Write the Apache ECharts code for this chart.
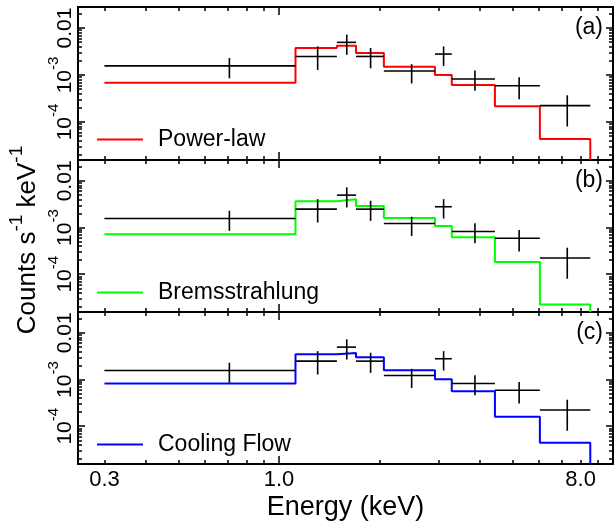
<!DOCTYPE html>
<html><head><meta charset="utf-8">
<script src="https://cdn.jsdelivr.net/npm/echarts@6/dist/echarts.min.js"></script>
<style>html,body{margin:0;padding:0;background:#fff}#c{width:615px;height:523px}</style>
</head><body><div id="c"></div>
<script>
// ---- data ----
const binEdges = [0.3, 1.12, 1.49, 1.70, 2.06, 2.93, 3.29, 4.43, 6.04, 8.55];
const dataRate = [1.56e-3, 2.48e-3, 4.95e-3, 2.48e-3, 1.22e-3, 2.79e-3, 8.2e-4, 5.9e-4, 2.23e-4];
const dataLow  = [8.5e-4, 1.28e-3, 2.69e-3, 1.39e-3, 6.6e-4, 1.56e-3, 4.6e-4, 3.05e-4, 8.0e-5];
const dataHigh = [2.29e-3, 4.06e-3, 7.25e-3, 3.75e-3, 1.70e-3, 4.06e-3, 1.24e-3, 8.9e-4, 3.7e-4];
const modelPowerLaw = [6.8e-4, 3.75e-3, 4.2e-3, 2.93e-3, 1.5e-3, 1.0e-3, 6.1e-4, 2.15e-4, 4.35e-5];
const modelBrems    = [7.2e-4, 3.66e-3, 4.03e-3, 2.9e-3, 1.6e-3, 1.08e-3, 6.2e-4, 1.83e-4, 2.24e-5];
const modelCooling  = [8.2e-4, 3.48e-3, 3.7e-3, 3.0e-3, 1.58e-3, 1.01e-3, 5.6e-4, 1.59e-4, 4.4e-5];
const panelNames = ['Power-law', 'Bremsstrahlung', 'Cooling Flow'];
const panelTags = ['(a)', '(b)', '(c)'];
const xTickLabels = [0.3, 1.0, 8.0];
const yTickLabels = [0.01, 0.001, 0.0001];
const xMajorTicks = [1];
const xMinorTicks = [0.3, 0.4, 0.5, 0.6, 0.7, 0.8, 0.9, 2, 3, 4, 5, 6, 7, 8, 9];
const yMajorTicks = [0.0001, 0.001, 0.01];
const yMinorTicks = [2e-5,3e-5,4e-5,5e-5,6e-5,7e-5,8e-5,9e-5,2e-4,3e-4,4e-4,5e-4,6e-4,7e-4,8e-4,9e-4,2e-3,3e-3,4e-3,5e-3,6e-3,7e-3,8e-3,9e-3,0.02];

// ---- layout / style ----
const FONT = '"Liberation Sans", Arial, Helvetica, sans-serif';
const X_MIN = 0.25, X_MAX = 10, Y_MIN = 1.55e-5, Y_MAX = 0.028;
const models = [modelPowerLaw, modelBrems, modelCooling];
const colors = ['#ff0000', '#00ff00', '#0000ff'];
const gridDefs = [{top: 7, height: 153}, {top: 160, height: 152}, {top: 312, height: 152}];

const chart = echarts.init(document.getElementById('c'), null, {renderer: 'canvas'});
const grids = [], xAxes = [], yAxes = [], series = [], legends = [], graphics = [];
const axisLine = {show: true, onZero: false, lineStyle: {color: '#000', width: 2}};
const tickStyle = {color: '#000', width: 1.5};

function stepData(vals) {
  const d = binEdges.map((e, i) => [e, vals[Math.min(i, vals.length - 1)]]);
  d.push([binEdges[binEdges.length - 1], Y_MIN]);
  return d;
}
const errData = dataRate.map((v, i) => [binEdges[i], binEdges[i + 1], (binEdges[i] + binEdges[i + 1]) / 2, v, dataLow[i], dataHigh[i]]);

function renderErr(params, api) {
  const a = api.coord([api.value(0), api.value(3)]);
  const b = api.coord([api.value(1), api.value(3)]);
  const c = api.coord([api.value(2), api.value(4)]);
  const d = api.coord([api.value(2), api.value(5)]);
  const st = {stroke: '#000', lineWidth: 1.6};
  return {type: 'group', children: [
    {type: 'line', shape: {x1: a[0], y1: a[1], x2: b[0], y2: b[1]}, style: st},
    {type: 'line', shape: {x1: c[0], y1: c[1], x2: d[0], y2: d[1]}, style: st}
  ]};
}

gridDefs.forEach((gd, g) => {
  grids.push({left: 78, right: 2, top: gd.top, height: gd.height, containLabel: false});
  const last = g === 2;
  const bx = {type: 'log', logBase: 10, min: X_MIN, max: X_MAX, gridIndex: g, splitLine: {show: false}, axisLabel: {show: false}};
  xAxes.push(Object.assign({}, bx, {
    position: 'bottom', axisLine: axisLine,
    axisTick: {show: true, inside: true, length: 8, customValues: xMajorTicks, lineStyle: tickStyle},
    axisLabel: last ? {show: true, customValues: xTickLabels, formatter: v => Number(v).toFixed(1), margin: 5,
      fontSize: 22, fontFamily: FONT, color: '#000'} : {show: false},
    name: last ? 'Energy (keV)' : '', nameLocation: 'middle', nameGap: 30,
    nameTextStyle: {fontSize: 27, fontFamily: FONT, color: '#000'}
  }));
  xAxes.push(Object.assign({}, bx, {position: 'bottom', axisLine: {show: false},
    axisTick: {show: true, inside: true, length: 4, customValues: xMinorTicks, lineStyle: tickStyle}}));
  xAxes.push(Object.assign({}, bx, {position: 'top', axisLine: axisLine,
    axisTick: {show: true, inside: true, length: 8, customValues: xMajorTicks, lineStyle: tickStyle}}));
  xAxes.push(Object.assign({}, bx, {position: 'top', axisLine: {show: false},
    axisTick: {show: true, inside: true, length: 4, customValues: xMinorTicks, lineStyle: tickStyle}}));

  const by = {type: 'log', logBase: 10, min: Y_MIN, max: Y_MAX, gridIndex: g, splitLine: {show: false}, axisLabel: {show: false}};
  yAxes.push(Object.assign({}, by, {
    position: 'left', axisLine: axisLine,
    axisTick: {show: true, inside: true, length: 7, customValues: yMajorTicks, lineStyle: tickStyle},
    axisLabel: {show: true, customValues: yTickLabels, rotate: 90, margin: 2,
      formatter: v => v >= 0.005 ? '{n|0.01}' : '{n|10}{s|' + Math.round(Math.log10(v)) + '}',
      rich: {n: {fontSize: 21, fontFamily: FONT, color: '#000', verticalAlign: 'bottom', padding: [9, 0, 0, 0]},
             s: {fontSize: 15, fontFamily: FONT, color: '#000', verticalAlign: 'top'}}}
  }));
  yAxes.push(Object.assign({}, by, {position: 'left', axisLine: {show: false},
    axisTick: {show: true, inside: true, length: 4, customValues: yMinorTicks, lineStyle: tickStyle}}));
  yAxes.push(Object.assign({}, by, {position: 'right', axisLine: axisLine,
    axisTick: {show: true, inside: true, length: 7, customValues: yMajorTicks, lineStyle: tickStyle}}));
  yAxes.push(Object.assign({}, by, {position: 'right', axisLine: {show: false},
    axisTick: {show: true, inside: true, length: 4, customValues: yMinorTicks, lineStyle: tickStyle}}));

  series.push({type: 'line', name: panelNames[g], xAxisIndex: 4 * g, yAxisIndex: 4 * g, step: 'end',
    symbol: 'none', data: stepData(models[g]), color: colors[g],
    lineStyle: {color: colors[g], width: 2}, z: 2, silent: true, animation: false});
  series.push({type: 'custom', xAxisIndex: 4 * g, yAxisIndex: 4 * g, renderItem: renderErr,
    data: errData, encode: {x: [0, 1, 2], y: [3, 4, 5]}, z: 3, silent: true, animation: false});

  legends.push({data: [panelNames[g]], left: 97, top: gd.top + 121, padding: 0, icon: 'rect', itemWidth: 46, itemHeight: 2,
    selectedMode: false, textStyle: {fontSize: 23, fontFamily: FONT, color: '#000', padding: [0, 0, 0, 10]}});

  graphics.push({type: 'text', x: 603, y: gd.top + 21, style: {text: panelTags[g], fontSize: 23, fontFamily: FONT,
    fill: '#000', align: 'right', verticalAlign: 'middle'}});
});

graphics.push({type: 'text', x: 24, y: 240, rotation: Math.PI / 2, style: {
  text: '{m|Counts s}{s|-1}{m| keV}{s|-1}', align: 'center', verticalAlign: 'middle',
  rich: {m: {fontSize: 26, fontFamily: FONT, fill: '#000', color: '#000', verticalAlign: 'bottom', padding: [8, 0, 0, 0]},
         s: {fontSize: 19, fontFamily: FONT, fill: '#000', color: '#000', verticalAlign: 'top'}}
}});

chart.setOption({
  animation: false,
  backgroundColor: '#fff',
  grid: grids, xAxis: xAxes, yAxis: yAxes, series: series, legend: legends, graphic: graphics
});
</script></body></html>
